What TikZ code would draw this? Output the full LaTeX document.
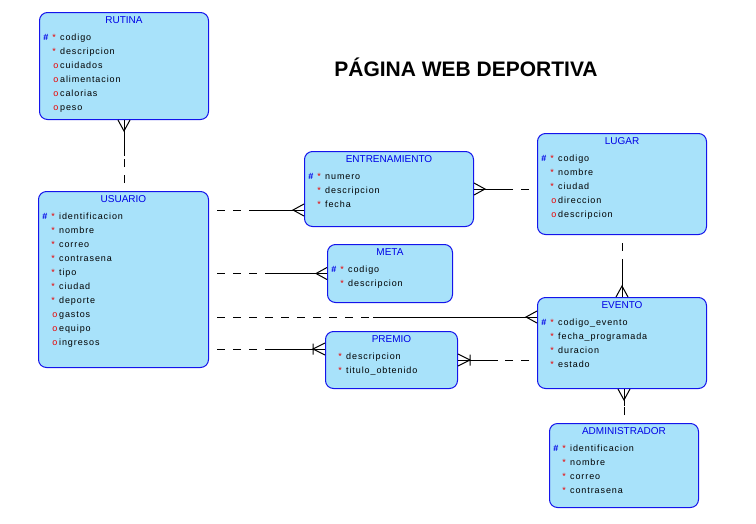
\documentclass[tikz,border=0pt]{standalone}
\usepackage{fontspec}
\setmainfont{Liberation Sans}
\newfontfamily\attrfam[LetterSpace=10]{Liberation Sans}
\usetikzlibrary{calc}
\definecolor{erfill}{RGB}{168,226,250}
\definecolor{erborder}{RGB}{20,20,235}
\definecolor{ertext}{RGB}{0,0,230}
\definecolor{redmark}{RGB}{235,0,0}
\newcommand{\mkpk}{{\bfseries\color{ertext}\#}\kern4pt{\color{redmark}*}\kern2.5pt}
\newcommand{\mkreq}{{\color{redmark}*}\kern2.5pt}
\newcommand{\mkopt}{{\color{redmark}o}}
\tikzset{
    entity/.style = {rectangle, rounded corners=8pt, draw=erborder, fill=erfill, line width=1pt, anchor=north west, inner sep=0pt},
    etitle/.style = {text=ertext, inner sep=0pt, font=\fontsize{10}{12}\selectfont},
    attr/.style = {anchor=base west, inner sep=0pt, font=\attrfam\fontsize{9}{11}\selectfont},
    attrkey/.style = {anchor=base east, inner sep=0pt, font=\fontsize{9}{11}\selectfont},
    dashline/.style = {black, line width=1pt, dash pattern=on 8pt off 8pt, dash phase=8pt},
    solidline/.style = {black, line width=1pt},
    crow/.pic = {\draw[solidline] (0,-6) -- (-11,0) -- (0,6);},
    crowbar/.pic = {\draw[solidline] (0,-6) -- (-12,0) -- (0,6) (-12,-5.5) -- (-12,5.5);}
}
% rows of one entity: text/kind (pk, req, opt)
\newcommand{\attrs}[2]{%
  \foreach \txt/\k [count=\i] in {#2} {
    \node[attr] (#1-a\i) at ($(#1.north west)+(21,14.5+14*\i)$) {\txt};
    \node[attrkey] (#1-k\i) at ($(#1-a\i.base west)+(-1.5,0)$) {\csname mk\k\endcsname};
  }}
% dashed half at #1, solid half at #2
\newcommand{\halfline}[2]{%
  \draw[dashline] (#1) -- ($(#1)!.5!(#2)$);
  \draw[solidline] ($(#1)!.5!(#2)$) -- (#2);}

\begin{document}
\begin{tikzpicture}[x=1pt,y=-1pt]
\useasboundingbox (0,0) rectangle (756,523);
%
\node[font=\bfseries\fontsize{21}{25}\selectfont] (titulo) at (466,67) {PÁGINA WEB DEPORTIVA};
%
\node[entity, minimum width=169pt, minimum height=107pt] (rutina) at (39,12) {};
\node[entity, minimum width=170pt, minimum height=176pt] (usuario) at (38,191) {};
\node[entity, minimum width=169pt, minimum height=75pt] (entrenamiento) at (304,151) {};
\node[entity, minimum width=169pt, minimum height=101pt] (lugar) at (537,133) {};
\node[entity, minimum width=125pt, minimum height=58pt] (meta) at (327,244) {};
\node[entity, minimum width=169pt, minimum height=91pt] (evento) at (537,297) {};
\node[entity, minimum width=132pt, minimum height=57pt] (premio) at (325,331) {};
\node[entity, minimum width=149pt, minimum height=84pt] (administrador) at (549,423) {};
%
\node[etitle] (rutina-t) at ($(rutina.north)+(0,8)$) {RUTINA};
\node[etitle] (usuario-t) at ($(usuario.north)+(0,8)$) {USUARIO};
\node[etitle] (entrenamiento-t) at ($(entrenamiento.north)+(0,8)$) {ENTRENAMIENTO};
\node[etitle] (lugar-t) at ($(lugar.north)+(0,8)$) {LUGAR};
\node[etitle] (meta-t) at ($(meta.north)+(0,8)$) {META};
\node[etitle] (evento-t) at ($(evento.north)+(0,8)$) {EVENTO};
\node[etitle] (premio-t) at ($(premio.north)+(0,8)$) {PREMIO};
\node[etitle] (administrador-t) at ($(administrador.north)+(0,8)$) {ADMINISTRADOR};
%
\attrs{rutina}{codigo/pk, descripcion/req, cuidados/opt, alimentacion/opt, calorias/opt, peso/opt}
\attrs{usuario}{identificacion/pk, nombre/req, correo/req, contrasena/req, tipo/req, ciudad/req, deporte/req, gastos/opt, equipo/opt, ingresos/opt}
\attrs{entrenamiento}{numero/pk, descripcion/req, fecha/req}
\attrs{lugar}{codigo/pk, nombre/req, ciudad/req, direccion/opt, descripcion/opt}
\attrs{meta}{codigo/pk, descripcion/req}
\attrs{evento}{codigo\_evento/pk, fecha\_programada/req, duracion/req, estado/req}
\attrs{premio}{descripcion/req, titulo\_obtenido/req}
\attrs{administrador}{identificacion/pk, nombre/req, correo/req, contrasena/req}
%
\path (entrenamiento.south west) ++(0,-17) coordinate (entr-in);
\path (evento.north west) ++(0,20) coordinate (ev-in);
\path (premio.north west) ++(0,18) coordinate (pr-in);
%
\halfline{rutina.south |- usuario.north}{rutina.south}
\halfline{usuario.east |- entr-in}{entr-in}
\halfline{lugar.west |- entrenamiento.east}{entrenamiento.east}
\halfline{usuario.east |- meta.west}{meta.west}
\halfline{usuario.east |- ev-in}{ev-in}
\halfline{usuario.east |- pr-in}{pr-in}
\halfline{evento.west |- premio.east}{premio.east}
\halfline{lugar.south}{lugar.south |- evento.north}
\halfline{administrador.north}{administrador.north |- evento.south}
%
\pic[rotate=90] at (rutina.south) {crow};
\pic at (entr-in) {crow};
\pic[rotate=180] at (entrenamiento.east) {crow};
\pic at (meta.west) {crow};
\pic at (ev-in) {crow};
\pic at (pr-in) {crowbar};
\pic[rotate=180] at (premio.east) {crowbar};
\pic[rotate=-90] at (lugar.south |- evento.north) {crow};
\pic[rotate=90] at (administrador.north |- evento.south) {crow};
\end{tikzpicture}
\end{document}
